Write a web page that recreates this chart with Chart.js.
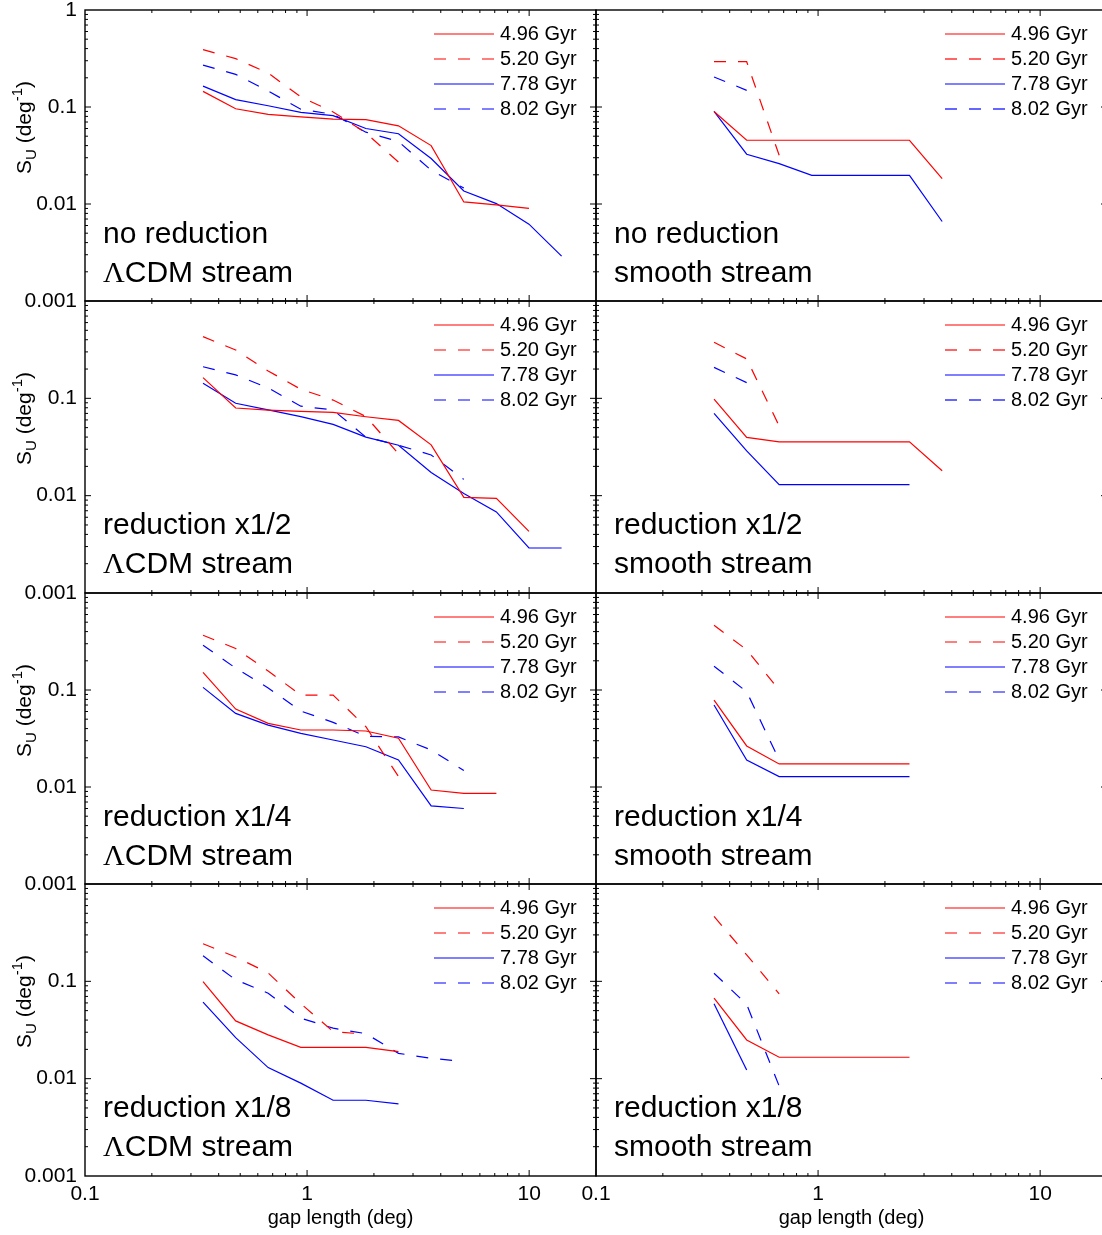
<!DOCTYPE html>
<html>
<head>
<meta charset="utf-8">
<script src="https://cdn.jsdelivr.net/npm/chart.js@4.4.0/dist/chart.umd.min.js"></script>
<style>
  html, body { margin: 0; padding: 0; background: #fff; overflow: hidden; width: 1102px; height: 1235px; }
  canvas { position: absolute; }
</style>
</head>
<body>
<script>
// gap lengths (deg) shared by every curve
const gapLength = [0.34, 0.477, 0.668, 0.937, 1.31, 1.84, 2.58, 3.62, 5.08, 7.12, 9.98, 14.0];

const seriesNames = ['4.96 Gyr', '5.20 Gyr', '7.78 Gyr', '8.02 Gyr'];
const xTickLabels = ['0.1', '1', '10'];
const yTickLabels = ['0.001', '0.01', '0.1', '1'];

// no reduction
const cdmFull_496 = [0.145, 0.096, 0.084, 0.079, 0.075, 0.074, 0.064, 0.040, 0.0105, 0.0098, 0.0090];
const cdmFull_520 = [0.39, 0.315, 0.224, 0.127, 0.089, 0.054, 0.027];
const cdmFull_778 = [0.164, 0.119, 0.103, 0.088, 0.0815, 0.060, 0.053, 0.0294, 0.0136, 0.0101, 0.0062, 0.0029];
const cdmFull_802 = [0.27, 0.217, 0.146, 0.095, 0.084, 0.055, 0.044, 0.0223, 0.0146];
const smoothFull_496 = [0.090, 0.0454, 0.0454, 0.0454, 0.0454, 0.0454, 0.0454, 0.0183];
const smoothFull_520 = [0.293, 0.293, 0.0318];
const smoothFull_778 = [0.090, 0.0326, 0.0261, 0.0197, 0.0197, 0.0197, 0.0197, 0.0066];
const smoothFull_802 = [0.204, 0.1485];

// reduction x1/2
const cdmHalf_496 = [0.163, 0.0795, 0.0758, 0.0735, 0.0718, 0.0647, 0.0593, 0.0333, 0.0096, 0.0094, 0.0043];
const cdmHalf_520 = [0.43, 0.314, 0.191, 0.124, 0.096, 0.065, 0.027];
const cdmHalf_778 = [0.143, 0.089, 0.076, 0.065, 0.054, 0.040, 0.033, 0.0173, 0.0105, 0.0068, 0.0029, 0.0029];
const cdmHalf_802 = [0.211, 0.174, 0.128, 0.083, 0.076, 0.040, 0.033, 0.0262, 0.0147];
const smoothHalf_496 = [0.098, 0.0397, 0.0357, 0.0357, 0.0357, 0.0357, 0.0357, 0.018];
const smoothHalf_520 = [0.377, 0.254, 0.052];
const smoothHalf_778 = [0.070, 0.0289, 0.0130, 0.0130, 0.0130, 0.0130, 0.0130];
const smoothHalf_802 = [0.208, 0.145];

// reduction x1/4
const cdmQuarter_496 = [0.152, 0.0636, 0.0453, 0.0387, 0.0387, 0.0378, 0.0318, 0.0093, 0.0086, 0.0086];
const cdmQuarter_520 = [0.367, 0.268, 0.157, 0.0886, 0.0886, 0.0418, 0.0128];
const cdmQuarter_778 = [0.1064, 0.0574, 0.0435, 0.0357, 0.0305, 0.026, 0.019, 0.0064, 0.006];
const cdmQuarter_802 = [0.29, 0.168, 0.105, 0.0607, 0.0464, 0.0333, 0.0328, 0.0241, 0.0148];
const smoothQuarter_496 = [0.0787, 0.0265, 0.0173, 0.0173, 0.0173, 0.0173, 0.0173];
const smoothQuarter_520 = [0.465, 0.26, 0.10];
const smoothQuarter_778 = [0.070, 0.019, 0.0128, 0.0128, 0.0128, 0.0128, 0.0128];
const smoothQuarter_802 = [0.176, 0.096, 0.019];

// reduction x1/8
const cdmEighth_496 = [0.0995, 0.0392, 0.0282, 0.021, 0.021, 0.021, 0.019];
const cdmEighth_520 = [0.243, 0.178, 0.122, 0.059, 0.0305, 0.0286];
const cdmEighth_778 = [0.0611, 0.0264, 0.013, 0.009, 0.006, 0.006, 0.0055];
const cdmEighth_802 = [0.183, 0.1036, 0.0756, 0.0418, 0.033, 0.029, 0.0182, 0.0162, 0.015];
const smoothEighth_496 = [0.0672, 0.025, 0.0166, 0.0166, 0.0166, 0.0166, 0.0166];
const smoothEighth_520 = [0.464, 0.187, 0.0743];
const smoothEighth_778 = [0.0587, 0.0123];
const smoothEighth_802 = [0.121, 0.058, 0.0084];

const panels = [
  {row: 0, col: 0, text: ['no reduction', 'ΛCDM stream'], series: [cdmFull_496, cdmFull_520, cdmFull_778, cdmFull_802]},
  {row: 0, col: 1, text: ['no reduction', 'smooth stream'], series: [smoothFull_496, smoothFull_520, smoothFull_778, smoothFull_802]},
  {row: 1, col: 0, text: ['reduction x1/2', 'ΛCDM stream'], series: [cdmHalf_496, cdmHalf_520, cdmHalf_778, cdmHalf_802]},
  {row: 1, col: 1, text: ['reduction x1/2', 'smooth stream'], series: [smoothHalf_496, smoothHalf_520, smoothHalf_778, smoothHalf_802]},
  {row: 2, col: 0, text: ['reduction x1/4', 'ΛCDM stream'], series: [cdmQuarter_496, cdmQuarter_520, cdmQuarter_778, cdmQuarter_802]},
  {row: 2, col: 1, text: ['reduction x1/4', 'smooth stream'], series: [smoothQuarter_496, smoothQuarter_520, smoothQuarter_778, smoothQuarter_802]},
  {row: 3, col: 0, text: ['reduction x1/8', 'ΛCDM stream'], series: [cdmEighth_496, cdmEighth_520, cdmEighth_778, cdmEighth_802]},
  {row: 3, col: 1, text: ['reduction x1/8', 'smooth stream'], series: [smoothEighth_496, smoothEighth_520, smoothEighth_778, smoothEighth_802]}
];

const lineColors = ['#ff0000', '#ff0000', '#0000ff', '#0000ff'];
const lineDashes = [[], [12, 12], [], [12, 12]];

const SANS = "'Liberation Sans', Arial, sans-serif";
Chart.defaults.font.family = SANS;
Chart.defaults.color = '#000';

const panelLefts = [85, 596];
const panelTops = [10, 301, 593, 884];
const panelBottoms = [301, 593, 884, 1176];
const PANEL_W = 511;
const MARGIN = 25;
const X_MIN = 0.1, X_MAX = 20, Y_MIN = 0.001, Y_MAX = 1;

const isDecade = v => Math.abs(Math.log10(v) - Math.round(Math.log10(v))) < 1e-6;

// frame, inward ticks, legend, panel text, y title
const deco = {
  id: 'deco',
  afterDraw(chart, args, opts) {
    const {ctx, chartArea: a} = chart;
    const xs = chart.scales.x, ys = chart.scales.y;
    ctx.save();
    ctx.setLineDash([]);
    ctx.strokeStyle = '#000';

    ctx.lineWidth = 1;
    ctx.beginPath();
    [0.1, 1, 10].forEach(d => {
      for (let m = 1; m <= 9; m++) {
        const v = d * m;
        if (v <= X_MIN * 1.0001 || v >= X_MAX * 0.9999) continue;
        const px = xs.getPixelForValue(v);
        const len = m === 1 ? 6 : 3;
        ctx.moveTo(px, a.bottom); ctx.lineTo(px, a.bottom - len);
        ctx.moveTo(px, a.top); ctx.lineTo(px, a.top + len);
      }
    });
    [0.001, 0.01, 0.1].forEach(d => {
      for (let m = 1; m <= 9; m++) {
        const v = d * m;
        if (v <= Y_MIN * 1.0001) continue;
        const py = ys.getPixelForValue(v);
        const len = m === 1 ? 6 : 3;
        ctx.moveTo(a.left, py); ctx.lineTo(a.left + len, py);
        ctx.moveTo(a.right, py); ctx.lineTo(a.right - len, py);
      }
    });
    ctx.stroke();

    ctx.lineWidth = 1.4;
    ctx.strokeRect(a.left, a.top, a.right - a.left, a.bottom - a.top);

    // legend
    ctx.font = '20px ' + SANS;
    ctx.textBaseline = 'middle';
    ctx.textAlign = 'left';
    chart.data.datasets.forEach((ds, i) => {
      const yy = a.top + 24 + 25 * i;
      ctx.beginPath();
      ctx.strokeStyle = ds.borderColor;
      ctx.lineWidth = 1.2;
      ctx.setLineDash(ds.borderDash);
      ctx.moveTo(a.left + 349, yy);
      ctx.lineTo(a.left + 409, yy);
      ctx.stroke();
      ctx.setLineDash([]);
      ctx.fillStyle = '#000';
      ctx.fillText(ds.label, a.left + 415, yy);
    });

    // panel annotation
    ctx.textBaseline = 'alphabetic';
    ctx.fillStyle = '#000';
    opts.text.forEach((line, i) => {
      let x = a.left + 18;
      const y = a.top + 233 + 39 * i;
      if (line.startsWith('Λ')) {
        ctx.font = '30px "Liberation Serif", serif';
        ctx.fillText('Λ', x, y);
        x += ctx.measureText('Λ').width;
        line = line.slice(1);
      }
      ctx.font = '30px ' + SANS;
      ctx.fillText(line, x, y);
    });

    // y axis title S_U (deg^-1)
    if (opts.yTitle) {
      ctx.translate(31, a.top + 164);
      ctx.rotate(-Math.PI / 2);
      const parts = [['S', 21, 0], ['U', 15, 5], [' (deg', 21, 0], ['-1', 15, -9], [')', 21, 0]];
      let x = 0;
      parts.forEach(([t, size, dy]) => {
        ctx.font = size + 'px ' + SANS;
        ctx.fillText(t, x, dy);
        x += ctx.measureText(t).width;
      });
    }
    ctx.restore();
  }
};

panels.forEach(p => {
  const left = panelLefts[p.col];
  const top = panelTops[p.row];
  const bottom = panelBottoms[p.row];
  const showX = p.row === 3;
  const showY = p.col === 0;
  const cl = showY ? 0 : left - MARGIN;
  const cr = left + PANEL_W + MARGIN;
  const ct = top - MARGIN;
  const cb = showX ? 1235 : bottom + MARGIN;

  const canvas = document.createElement('canvas');
  canvas.width = cr - cl;
  canvas.height = cb - ct;
  canvas.style.left = cl + 'px';
  canvas.style.top = ct + 'px';
  canvas.style.width = (cr - cl) + 'px';
  canvas.style.height = (cb - ct) + 'px';
  document.body.appendChild(canvas);

  const datasets = p.series.map((vals, i) => ({
    label: seriesNames[i],
    data: vals.map((v, k) => ({x: gapLength[k], y: v})),
    borderColor: lineColors[i],
    borderDash: lineDashes[i],
    borderWidth: 1.2,
    pointRadius: 0,
    tension: 0,
    fill: false
  }));

  new Chart(canvas, {
    type: 'line',
    data: {datasets},
    options: {
      responsive: false,
      animation: false,
      devicePixelRatio: 1,
      layout: {padding: {left: showY ? 0 : MARGIN, right: MARGIN, top: MARGIN, bottom: showX ? 0 : MARGIN}},
      plugins: {
        legend: {display: false},
        tooltip: {enabled: false},
        deco: {text: p.text, yTitle: showY}
      },
      scales: {
        x: {
          type: 'logarithmic',
          min: X_MIN, max: X_MAX,
          display: showX,
          grid: {display: false, drawTicks: false},
          border: {display: false},
          ticks: {
            autoSkip: false, maxRotation: 0, minRotation: 0, padding: 6,
            font: {size: 21}, color: '#000',
            callback: v => {
              if (!isDecade(v)) return '';
              const i = Math.round(Math.log10(v)) + 1;
              return xTickLabels[i] || '';
            }
          },
          title: {display: true, text: 'gap length (deg)', font: {size: 20}, color: '#000', padding: {top: 0, bottom: 5}},
          afterFit: s => { if (showX) s.height = 59; }
        },
        y: {
          type: 'logarithmic',
          min: Y_MIN, max: Y_MAX,
          display: showY,
          grid: {display: false, drawTicks: false},
          border: {display: false},
          ticks: {
            autoSkip: false, padding: 8,
            font: {size: 21}, color: '#000',
            callback: v => {
              if (!isDecade(v)) return '';
              if (p.row > 0 && v > 0.5) return '';
              const i = Math.round(Math.log10(v)) + 3;
              return yTickLabels[i] || '';
            }
          },
          afterFit: s => { if (showY) s.width = 85; }
        }
      }
    },
    plugins: [deco]
  });
});
</script>
</body>
</html>
